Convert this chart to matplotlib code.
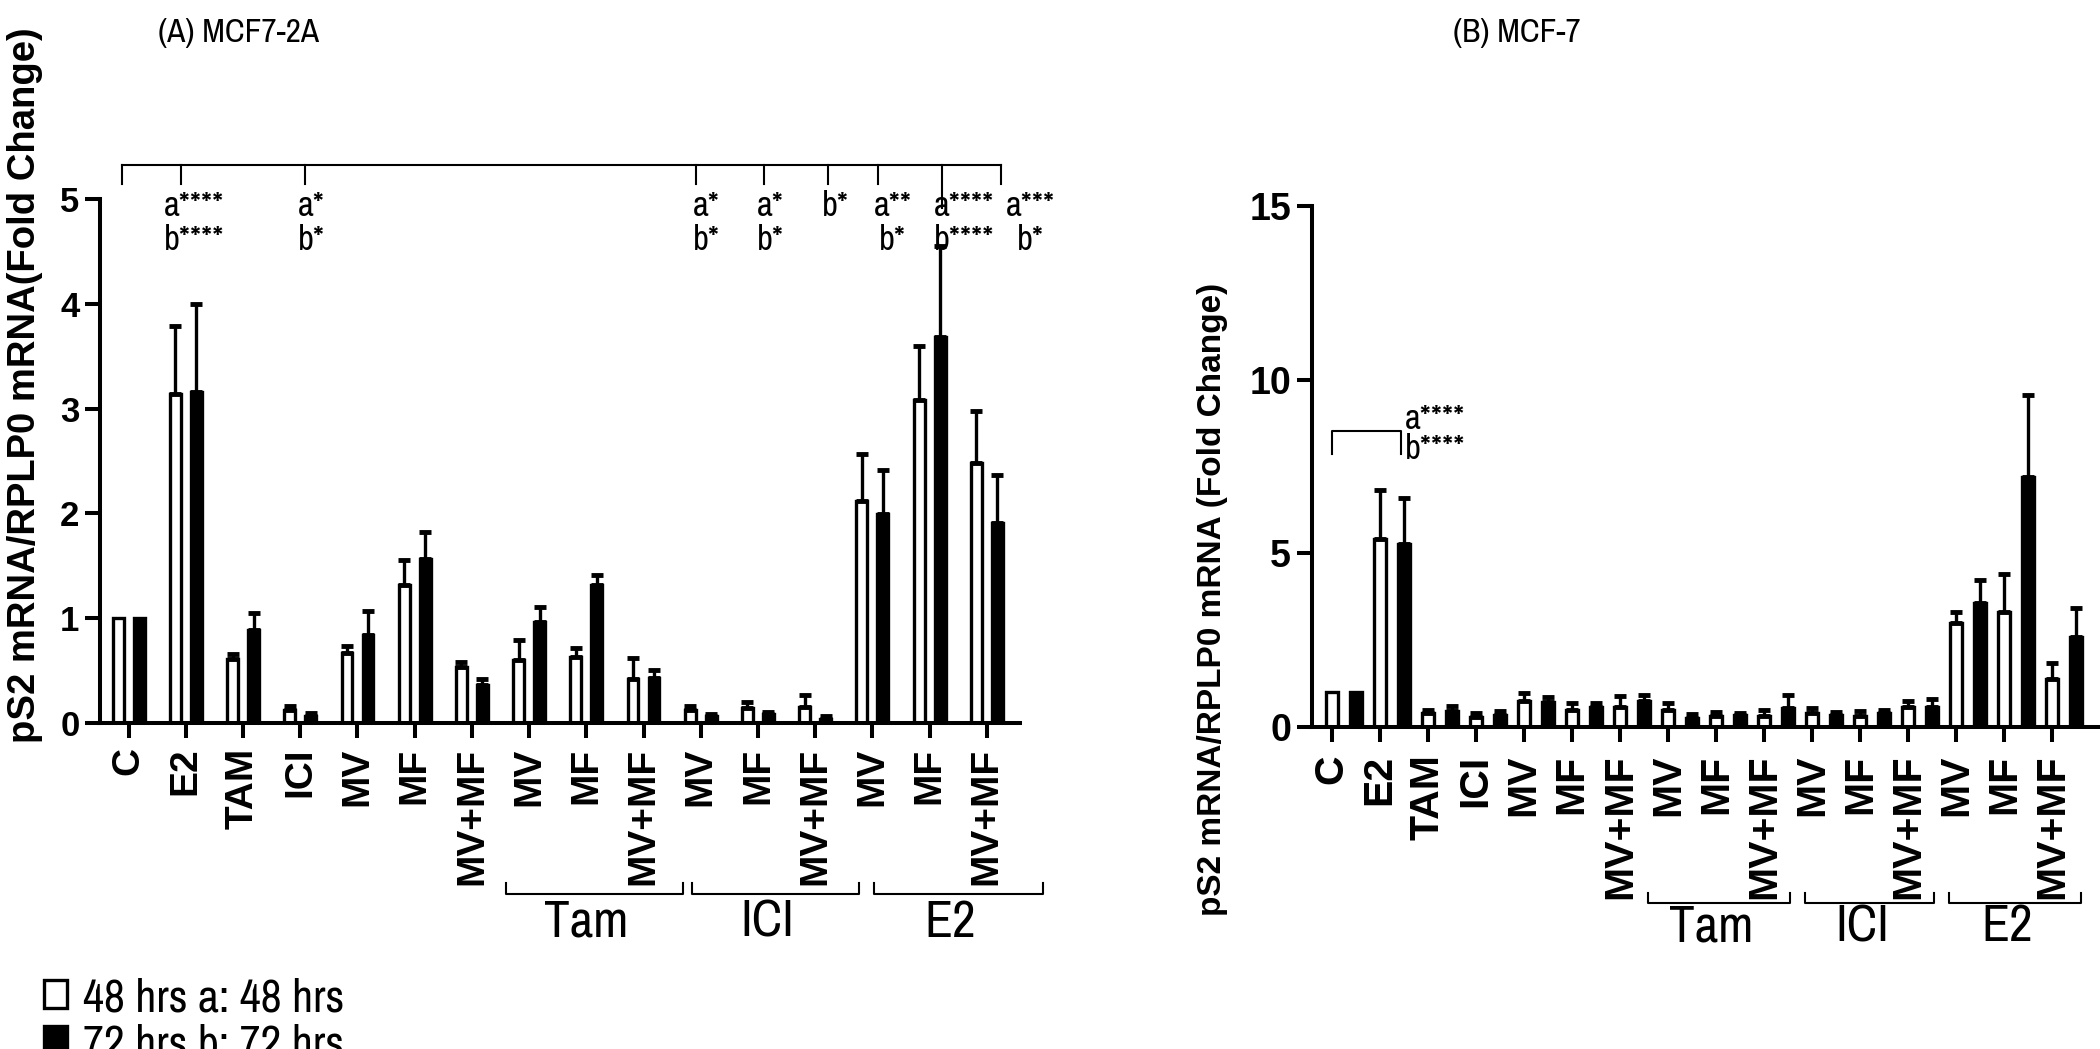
import numpy as np
import matplotlib
matplotlib.use('Agg')
from matplotlib import pyplot as plt
from matplotlib.patches import Rectangle
import matplotlib.transforms as mtransforms


groups = ['C', 'E2', 'TAM', 'ICI', 'MV', 'MF', 'MV+MF',
          'MV', 'MF', 'MV+MF', 'MV', 'MF', 'MV+MF', 'MV', 'MF', 'MV+MF']
sub_groups = ['Tam', 'ICI', 'E2']

# (A) MCF7-2A, mean and upper error (SEM)
a_48 = [1.0, 3.14, 0.61, 0.12, 0.67, 1.32, 0.53, 0.60, 0.63, 0.42, 0.12, 0.14, 0.15, 2.12, 3.08, 2.48]
a_48_err = [0, 0.65, 0.05, 0.04, 0.06, 0.23, 0.05, 0.19, 0.08, 0.20, 0.04, 0.06, 0.11, 0.45, 0.52, 0.50]
a_72 = [1.0, 3.16, 0.89, 0.06, 0.84, 1.56, 0.36, 0.96, 1.32, 0.43, 0.06, 0.08, 0.04, 1.99, 3.68, 1.91]
a_72_err = [0, 0.84, 0.16, 0.03, 0.23, 0.26, 0.06, 0.15, 0.09, 0.07, 0.02, 0.02, 0.02, 0.42, 0.87, 0.46]

# (B) MCF-7
b_48 = [1.0, 5.42, 0.39, 0.28, 0.75, 0.48, 0.59, 0.50, 0.31, 0.33, 0.39, 0.31, 0.57, 2.98, 3.30, 1.37]
b_48_err = [0, 1.40, 0.11, 0.12, 0.23, 0.22, 0.31, 0.20, 0.11, 0.15, 0.17, 0.14, 0.18, 0.32, 1.10, 0.47]
b_72 = [1.0, 5.28, 0.45, 0.34, 0.73, 0.59, 0.76, 0.27, 0.34, 0.56, 0.34, 0.39, 0.59, 3.57, 7.20, 2.60]
b_72_err = [0, 1.31, 0.16, 0.11, 0.12, 0.11, 0.17, 0.09, 0.05, 0.36, 0.09, 0.11, 0.21, 0.66, 2.37, 0.83]

# significance marks in panel A: group, first line, second line
a_signif = [(1, 'a****', 'b****'), (3, 'a*', 'b*'), (10, 'a*', 'b*'), (11, 'a*', 'b*'),
            (12, 'b*', ''), (13, 'a**', 'b*'), (14, 'a****', 'b****'), (15, 'a***', 'b*')]
b_signif = ('a****', 'b****')

legend_labels = ['48 hrs a: 48 hrs', '72 hrs b: 72 hrs']


plt.rcParams['font.family'] = ['Liberation Sans', 'DejaVu Sans']
light = ['Archivo Narrow', 'Liberation Sans']

W, H = 2100, 1049
fig = plt.figure(figsize=(W / 100, H / 100), dpi=100)

lw_axis = 2.9
lw_bar = 2.4


def style_axes(ax, fs_y, fs_x, xpad):
    for s in ['top', 'right']:
        ax.spines[s].set_visible(False)
    for s in ['left', 'bottom']:
        ax.spines[s].set_linewidth(lw_axis)
    ax.tick_params(direction='out', length=10.8, width=lw_axis)
    ax.tick_params(axis='y', labelsize=fs_y, pad=4)
    ax.tick_params(axis='x', labelsize=fs_x, pad=xpad)
    for t in ax.get_yticklabels() + ax.get_xticklabels():
        t.set_fontweight('bold')


def draw_err(ax, x, vals, errs):
    x = np.asarray(x, float)
    vals = np.asarray(vals, float)
    errs = np.asarray(errs, float)
    m = errs > 0
    ax.errorbar(x[m], vals[m], yerr=[np.zeros(m.sum()), errs[m]], fmt='none',
                ecolor='black', elinewidth=2.4, capsize=4, capthick=3.5, zorder=3)


# ---------------- panel A ----------------
ax1 = fig.add_axes([100 / W, 1 - 722.7 / H, 920 / W, 523.4 / H])
x = np.arange(len(groups))
off, bw = 0.184, 0.19
ax1.bar(x - off, a_48, width=bw, color='white', edgecolor='black', linewidth=lw_bar, zorder=2)
ax1.bar(x + off, a_72, width=bw, color='black', edgecolor='black', linewidth=lw_bar, zorder=2)
draw_err(ax1, x - off, a_48, a_48_err)
draw_err(ax1, x + off, a_72, a_72_err)
ax1.set_xlim(-0.5, 15.58)
ax1.set_ylim(0, 5)
ax1.set_yticks([0, 1, 2, 3, 4, 5])
ax1.set_xticks(x)
ax1.set_xticklabels(groups, rotation=90)
style_axes(ax1, 25, 28, 7)

# top bracket with significance
top, drop = 5.33, 5.15
drop_x = {1: 0.92, 3: 3.08, 10: 9.92, 11: 11.1, 12: 12.22, 13: 13.1, 14: 14.22, 15: 15.24}
text_x = {1: 1.14, 3: 3.19, 10: 10.1, 11: 11.22, 12: 12.35, 13: 13.35, 14: 14.6, 15: 15.76}
ax1.plot([-0.12, drop_x[15]], [top, top], color='black', lw=1.5, clip_on=False)
ax1.plot([-0.12, -0.12], [top, drop], color='black', lw=1.5, clip_on=False)
for g, l1, l2 in a_signif:
    low = 4.92 if g == 14 else drop
    ax1.plot([drop_x[g], drop_x[g]], [top, low], color='black', lw=1.5, clip_on=False)
    ax1.text(text_x[g], 4.84, l1, ha='center', va='baseline', fontsize=25, family=light)
    if l2:
        ax1.text(text_x[g], 4.52, l2, ha='center', va='baseline', fontsize=25, family=light)

# sub-group brackets under the labels
tr1 = mtransforms.blended_transform_factory(ax1.transData, ax1.transAxes)
spans_a = [(6.59, 9.69), (9.85, 12.76), (13.02, 15.98)]
for (x0, x1), name in zip(spans_a, sub_groups):
    ax1.plot([x0, x0, x1, x1], [-0.306, -0.327, -0.327, -0.306], color='black', lw=1.5,
             transform=tr1, clip_on=False)
    ax1.text((x0 + x1) / 2 - 0.15, -0.409, name, ha='center', va='baseline',
             fontsize=37, family=light, transform=tr1)

fig.text(25 / W, 1 - 385 / H, 'pS2 mRNA/RPLP0 mRNA(Fold Change)', rotation=90,
         ha='center', va='center', fontsize=27.5, fontweight='bold')
fig.text(158 / W, 1 - 42 / H, '(A) MCF7-2A', ha='left', va='baseline', fontsize=24, family=light)

# ---------------- panel B ----------------
ax2 = fig.add_axes([1311.7 / W, 1 - 727 / H, 788.3 / W, 521 / H])
xb = 2 * np.arange(len(groups))
bwb = 0.5
ax2.bar(xb, b_48, width=bwb, color='white', edgecolor='black', linewidth=lw_bar, zorder=2)
ax2.bar(xb + 1, b_72, width=bwb, color='black', edgecolor='black', linewidth=lw_bar, zorder=2)
draw_err(ax2, xb, b_48, b_48_err)
draw_err(ax2, xb + 1, b_72, b_72_err)
ax2.set_xlim(-0.83, 32)
ax2.set_ylim(0, 15)
ax2.set_yticks([0, 5, 10, 15])
ax2.set_xticks(xb)
ax2.set_xticklabels(groups, rotation=90)
style_axes(ax2, 27, 29.5, 9)

ax2.plot([0, 0, 2.87, 2.87], [7.86, 8.52, 8.52, 7.86], color='black', lw=1.5)
ax2.text(3.05, 8.57, b_signif[0], ha='left', va='baseline', fontsize=25, family=light)
ax2.text(3.05, 7.72, b_signif[1], ha='left', va='baseline', fontsize=25, family=light)

tr2 = mtransforms.blended_transform_factory(ax2.transData, ax2.transAxes)
spans_b = [(13.16, 19.07), (19.7, 25.1), (25.7, 31.2)]
for (x0, x1), name in zip(spans_b, sub_groups):
    ax2.plot([x0, x0, x1, x1], [-0.319, -0.338, -0.338, -0.319], color='black', lw=1.5,
             transform=tr2, clip_on=False)
    ax2.text((x0 + x1) / 2 - 0.3, -0.411, name, ha='center', va='baseline',
             fontsize=37, family=light, transform=tr2)

fig.text(1212 / W, 1 - 599 / H, 'pS2 mRNA/RPLP0 mRNA (Fold Change)', rotation=90,
         ha='center', va='center', fontsize=24, fontweight='bold')
fig.text(1453 / W, 1 - 42 / H, '(B) MCF-7', ha='left', va='baseline', fontsize=24, family=light)

# ---------------- legend ----------------
for i, (lab, fc) in enumerate(zip(legend_labels, ['white', 'black'])):
    cy = 994 + 46 * i
    fig.add_artist(Rectangle((44 / W, 1 - (cy + 14) / H), 23 / W, 28 / H, facecolor=fc,
                             edgecolor='black', linewidth=2.4, transform=fig.transFigure))
    fig.text(83 / W, 1 - cy / H, lab, ha='left', va='center_baseline', fontsize=33, family=light)

fig.savefig('out.png', dpi=100)
